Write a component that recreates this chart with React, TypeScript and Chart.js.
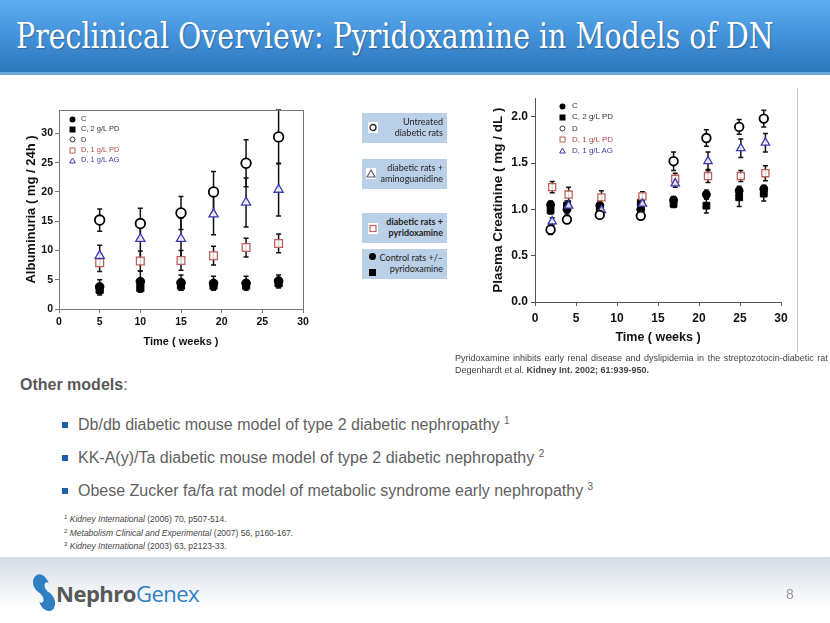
import React, { useEffect, useRef } from 'react';
import { Chart, registerables } from 'chart.js';
Chart.register(...registerables);

// ---------- Data: Albuminuria (left chart) ----------
const albuminWeeks = [5, 10, 15, 19, 23, 27];
const albuminC = [3.8, 4.7, 4.5, 4.4, 4.4, 4.8];
const albuminCErr = [1.2, 1.8, 1.3, 1.2, 1.2, 1.0];
const albuminCPD = [3.3, 3.6, 4.0, 4.0, 4.0, 4.4];
const albuminCPDErr = [0.9, 0.7, 0.8, 0.7, 0.6, 0.8];
const albuminD = [15.2, 14.6, 16.4, 20.0, 24.9, 29.4];
const albuminDErr = [1.9, 2.6, 2.8, 3.5, 4.0, 4.6];
const albuminDPD = [7.9, 8.2, 8.3, 9.1, 10.5, 11.2];
const albuminDPDErr = [1.5, 1.7, 1.7, 1.6, 1.6, 1.6];
const albuminDAG = [9.1, 12.0, 12.0, 16.2, 18.2, 20.4];
const albuminDAGErr = [1.8, 3.3, 3.5, 3.5, 4.2, 4.5];
const albuminYTicks = [0, 5, 10, 15, 20, 25, 30];

// ---------- Data: Plasma creatinine (right chart) ----------
const creatWeeksControl = [1.9, 3.9, 7.9, 12.9, 16.9, 20.9, 24.9, 27.9];
const creatWeeksTreated = [2.1, 4.1, 8.1, 13.1, 17.1, 21.1, 25.1, 28.1];
const creatC = [1.05, 1.0, 1.04, 1.0, 1.1, 1.16, 1.2, 1.22];
const creatCErr = [0.04, 0.05, 0.05, 0.04, 0.04, 0.05, 0.05, 0.04];
const creatCPD = [0.99, 1.04, 0.98, 1.07, 1.06, 1.04, 1.13, 1.17];
const creatCPDErr = [0.04, 0.05, 0.04, 0.05, 0.04, 0.08, 0.1, 0.08];
const creatD = [0.78, 0.89, 0.94, 0.93, 1.52, 1.77, 1.89, 1.98];
const creatDErr = [0.05, 0.04, 0.03, 0.03, 0.1, 0.09, 0.08, 0.09];
const creatDPD = [1.24, 1.16, 1.13, 1.14, 1.33, 1.36, 1.36, 1.39];
const creatDPDErr = [0.06, 0.08, 0.07, 0.05, 0.06, 0.07, 0.06, 0.08];
const creatDAG = [0.87, 1.04, 0.99, 1.06, 1.28, 1.52, 1.66, 1.72];
const creatDAGErr = [0.04, 0.05, 0.05, 0.05, 0.04, 0.1, 0.1, 0.1];
const creatYTicks = [0, 0.5, 1.0, 1.5, 2.0];

const legendLabels = ['C', 'C, 2 g/L PD', 'D', 'D, 1 g/L PD', 'D, 1 g/L AG'];

const RED = '#c0605a';
const BLUE = '#3a3ab0';
const SANS = "'Liberation Sans', Arial, sans-serif";

const styles: Record<string, any> = {
  C: { pointStyle: 'circle', backgroundColor: '#000', borderColor: '#000', borderWidth: 1 },
  CPD: { pointStyle: 'rect', backgroundColor: '#000', borderColor: '#000', borderWidth: 1 },
  D: { pointStyle: 'circle', backgroundColor: '#fff', borderColor: '#000', borderWidth: 1.8 },
  DPD: { pointStyle: 'rect', backgroundColor: 'rgba(255,255,255,0.85)', borderColor: RED, borderWidth: 1.3 },
  DAG: { pointStyle: 'triangle', backgroundColor: 'rgba(255,255,255,0.85)', borderColor: BLUE, borderWidth: 1.3 },
};

function ds(key: string, label: string, xs: number[], ys: number[], errs: number[], radius: number) {
  return {
    label,
    data: xs.map((x, i) => ({ x, y: ys[i] })),
    errors: errs,
    showLine: false,
    pointRadius: radius,
    ...styles[key],
  };
}

const errorBarPlugin = {
  id: 'errorBars',
  beforeDatasetsDraw(chart: any) {
    const { ctx, chartArea: a } = chart;
    const ys = chart.scales.y;
    ctx.save();
    ctx.beginPath();
    ctx.rect(a.left, a.top - 1, a.right - a.left, a.bottom - a.top + 1);
    ctx.clip();
    ctx.strokeStyle = '#111';
    ctx.lineWidth = 1.5;
    chart.data.datasets.forEach((d: any, i: number) => {
      if (!d.errors) return;
      const meta = chart.getDatasetMeta(i);
      meta.data.forEach((el: any, j: number) => {
        const v = d.data[j].y;
        const e = d.errors[j];
        const t = ys.getPixelForValue(v + e);
        const b = ys.getPixelForValue(v - e);
        const x = el.x;
        const cap = 2.5;
        ctx.beginPath();
        ctx.moveTo(x, t); ctx.lineTo(x, b);
        ctx.moveTo(x - cap, t); ctx.lineTo(x + cap, t);
        ctx.moveTo(x - cap, b); ctx.lineTo(x + cap, b);
        ctx.stroke();
      });
    });
    ctx.restore();
  },
};

const framePlugin = {
  id: 'frame',
  afterDraw(chart: any) {
    const o = chart.options.plugins.frame;
    if (!o || !o.display) return;
    const { ctx, chartArea: a } = chart;
    ctx.save();
    ctx.strokeStyle = o.color;
    ctx.lineWidth = 1;
    ctx.strokeRect(Math.round(a.left) + 0.5, Math.round(a.top) + 0.5, Math.round(a.right - a.left), Math.round(a.bottom - a.top));
    ctx.restore();
  },
};

function font(size: number, weight: any = 'bold') {
  return { family: SANS, size, weight };
}

function leftConfig(): any {
  const r = 4.3;
  return {
    type: 'scatter',
    data: {
      datasets: [
        ds('D', legendLabels[2], albuminWeeks, albuminD, albuminDErr, r + 0.5),
        ds('DAG', legendLabels[4], albuminWeeks, albuminDAG, albuminDAGErr, r + 1),
        ds('DPD', legendLabels[3], albuminWeeks, albuminDPD, albuminDPDErr, r + 1.2),
        ds('C', legendLabels[0], albuminWeeks, albuminC, albuminCErr, r),
        ds('CPD', legendLabels[1], albuminWeeks, albuminCPD, albuminCPDErr, r + 0.8),
      ],
    },
    options: {
      animation: false,
      responsive: false,
      devicePixelRatio: 1,
      events: [],
      layout: { padding: { top: 20, right: 17, left: 0, bottom: 0 } },
      plugins: { legend: { display: false }, tooltip: { enabled: false }, frame: { display: true, color: '#777' } },
      scales: {
        x: {
          type: 'linear', min: 0, max: 30,
          ticks: { stepSize: 5, color: '#111', font: font(10.5), padding: 3, maxRotation: 0 },
          grid: { drawOnChartArea: false, tickLength: 4, color: '#777' },
          border: { color: '#777', width: 1 },
          title: { display: true, text: 'Time ( weeks )', color: '#111', font: font(11), padding: { top: 0, bottom: 11 } },
          afterFit: (s: any) => { s.height = 51; },
        },
        y: {
          type: 'linear', min: 0, max: 34,
          afterBuildTicks: (s: any) => { s.ticks = albuminYTicks.map((v) => ({ value: v })); },
          ticks: { color: '#111', font: font(10.5), padding: 2 },
          grid: { drawOnChartArea: false, tickLength: 4, color: '#777' },
          border: { color: '#777', width: 1 },
          title: { display: true, text: 'Albuminuria ( mg / 24h )', color: '#111', font: font(13), padding: { top: 24, bottom: 0 } },
          afterFit: (s: any) => { s.width = 59; },
        },
      },
    },
    plugins: [errorBarPlugin, framePlugin],
  };
}

function rightConfig(): any {
  const r = 4;
  return {
    type: 'scatter',
    data: {
      datasets: [
        ds('D', legendLabels[2], creatWeeksControl, creatD, creatDErr, r + 0.3),
        ds('DAG', legendLabels[4], creatWeeksTreated, creatDAG, creatDAGErr, r + 0.8),
        ds('DPD', legendLabels[3], creatWeeksTreated, creatDPD, creatDPDErr, r + 1),
        ds('C', legendLabels[0], creatWeeksControl, creatC, creatCErr, r),
        ds('CPD', legendLabels[1], creatWeeksControl, creatCPD, creatCPDErr, r + 0.8),
      ],
    },
    options: {
      animation: false,
      responsive: false,
      devicePixelRatio: 1,
      events: [],
      layout: { padding: { top: 10, right: 19, left: 0, bottom: 0 } },
      plugins: { legend: { display: false }, tooltip: { enabled: false }, frame: { display: false } },
      scales: {
        x: {
          type: 'linear', min: 0, max: 30,
          ticks: { stepSize: 5, color: '#111', font: font(12), padding: 5, maxRotation: 0 },
          grid: { drawOnChartArea: false, tickLength: 4, color: '#555' },
          border: { color: '#555', width: 1 },
          title: { display: true, text: 'Time ( weeks )', color: '#111', font: font(12.5), padding: { top: 0, bottom: 13 } },
          afterFit: (s: any) => { s.height = 56; },
        },
        y: {
          type: 'linear', min: 0, max: 2.2,
          afterBuildTicks: (s: any) => { s.ticks = creatYTicks.map((v) => ({ value: v })); },
          ticks: { color: '#111', font: font(12), padding: 3, callback: (v: any) => Number(v).toFixed(1) },
          grid: { drawOnChartArea: false, tickLength: 4, color: '#555' },
          border: { color: '#555', width: 1 },
          title: { display: true, text: 'Plasma Creatinine ( mg / dL )', color: '#111', font: font(13.5), padding: { top: 35, bottom: 0 } },
          afterFit: (s: any) => { s.width = 80; },
        },
      },
    },
    plugins: [errorBarPlugin, framePlugin],
  };
}

function ChartCanvas(props: { left: number; top: number; width: number; height: number; make: () => any }) {
  const ref = useRef<HTMLCanvasElement>(null);
  useEffect(() => {
    const chart = new Chart(ref.current as HTMLCanvasElement, props.make());
    return () => chart.destroy();
  }, []);
  return (
    <canvas
      ref={ref}
      width={props.width}
      height={props.height}
      style={{ position: 'absolute', left: props.left, top: props.top, width: props.width, height: props.height }}
    />
  );
}

function Marker({ kind, s }: { kind: string; s: number }) {
  const h = s / 2;
  let el: any = null;
  if (kind === 'C') el = <circle cx={h} cy={h} r={h - 0.5} fill="#000" />;
  if (kind === 'CPD') el = <rect x={0.5} y={0.5} width={s - 1} height={s - 1} fill="#000" />;
  if (kind === 'D') el = <circle cx={h} cy={h} r={h - 1} fill="#fff" stroke="#333" strokeWidth={1} />;
  if (kind === 'DPD') el = <rect x={1} y={1} width={s - 2} height={s - 2} fill="#fff" stroke={RED} strokeWidth={1} />;
  if (kind === 'DAG') el = <polygon points={`${h},1 ${s - 0.7},${s - 1} 0.7,${s - 1}`} fill="#fff" stroke={BLUE} strokeWidth={1} />;
  return (
    <svg width={s} height={s} style={{ display: 'block' }}>
      {el}
    </svg>
  );
}

const legendKeys = ['C', 'CPD', 'D', 'DPD', 'DAG'];
const legendColors = ['#333', '#333', '#333', '#b04848', '#4040a8'];

function InnerLegend({ mx, tx, rows, size, ms }: { mx: number; tx: number; rows: number[]; size: number; ms: number }) {
  return (
    <>
      {legendKeys.map((k, i) => (
        <React.Fragment key={k}>
          <div style={{ position: 'absolute', left: mx - ms / 2, top: rows[i] - ms / 2 }}>
            <Marker kind={k} s={ms} />
          </div>
          <div
            style={{
              position: 'absolute', left: tx, top: rows[i] - 6, height: 12, lineHeight: '12px',
              fontSize: size, fontFamily: SANS, color: legendColors[i], whiteSpace: 'nowrap',
            }}
          >
            {legendLabels[i]}
          </div>
        </React.Fragment>
      ))}
    </>
  );
}

const boxBase: any = {
  position: 'absolute', left: 362, width: 85, height: 30, background: '#bad0e8',
  fontFamily: "Lato, 'Noto Sans', sans-serif", fontSize: 9, lineHeight: '10.5px', color: '#222',
};

function InfoBox({ top, lines, bold, icon }: { top: number; lines: string[]; bold?: boolean; icon: any }) {
  return (
    <div style={{ ...boxBase, top }}>
      {icon}
      <div style={{ position: 'absolute', right: 4, top: 4, textAlign: 'right', fontWeight: bold ? 700 : 400, whiteSpace: 'nowrap' }}>
        {lines.map((l) => (
          <div key={l}>{l}</div>
        ))}
      </div>
    </div>
  );
}

function WhiteIcon({ left, top, children }: any) {
  return (
    <div style={{ position: 'absolute', left, top, width: 10, height: 11, background: '#fff' }}>
      <svg width={10} height={11} style={{ display: 'block' }}>{children}</svg>
    </div>
  );
}

const otherModels = [
  { text: 'Db/db diabetic mouse model of type 2 diabetic nephropathy', sup: '1' },
  { text: 'KK-A(y)/Ta diabetic mouse model of type 2 diabetic nephropathy', sup: '2' },
  { text: 'Obese Zucker fa/fa rat model of metabolic syndrome early nephropathy', sup: '3' },
];

const footnotes = [
  { sup: '1', it: 'Kidney International', rest: ' (2006) 70, p507-514.' },
  { sup: '2', it: 'Metabolism Clinical and Experimental', rest: ' (2007) 56, p160-167.' },
  { sup: '3', it: 'Kidney International', rest: ' (2003) 63, p2123-33.' },
];

export default function App() {
  return (
    <div
      style={{
        position: 'absolute', left: 0, top: 0, width: 830, height: 623, overflow: 'hidden',
        background: '#fff', fontFamily: SANS,
      }}
    >
      {/* Header */}
      <div
        style={{
          position: 'absolute', left: 0, top: 0, width: 830, height: 72,
          background: 'linear-gradient(180deg, #5eaef2 0%, #4594dc 45%, #2d77bb 100%)',
          borderBottom: '3px solid #6ea9de',
        }}
      />
      <div
        style={{
          position: 'absolute', left: 16, top: 13, height: 46, lineHeight: '46px', whiteSpace: 'nowrap',
          fontFamily: "'DejaVu Serif Condensed', 'DejaVu Serif', serif", fontSize: 31.6, color: '#fff',
          textShadow: '1px 1px 1px rgba(0,0,0,0.25)', transform: 'scaleY(1.12)', transformOrigin: 'left center',
        }}
      >
        Preclinical Overview: Pyridoxamine in Models of DN
      </div>

      {/* Charts */}
      <ChartCanvas left={0} top={90} width={320} height={270} make={leftConfig} />
      <ChartCanvas left={455} top={88} width={345} height={270} make={rightConfig} />
      <div style={{ position: 'absolute', left: 797, top: 88, width: 1, height: 264, background: '#c8c8c8' }} />

      <InnerLegend mx={72} tx={81} rows={[119, 129, 139.5, 150, 160]} size={7.5} ms={7} />
      <InnerLegend mx={562} tx={572} rows={[106, 117, 128.5, 139.5, 150.5]} size={8} ms={7} />

      {/* Middle legend boxes */}
      <InfoBox
        top={113}
        lines={['Untreated', 'diabetic rats']}
        icon={
          <WhiteIcon left={6} top={9}>
            <circle cx={5} cy={5.5} r={3} fill="none" stroke="#222" strokeWidth={1.3} />
          </WhiteIcon>
        }
      />
      <InfoBox
        top={159}
        lines={['diabetic rats +', 'aminoguanidine']}
        icon={
          <WhiteIcon left={4} top={9}>
            <polygon points="5,2 9,9 1,9" fill="none" stroke="#605070" strokeWidth={1.1} />
          </WhiteIcon>
        }
      />
      <InfoBox
        top={213}
        bold
        lines={['diabetic rats +', 'pyridoxamine']}
        icon={
          <WhiteIcon left={6} top={10}>
            <rect x={2} y={2.5} width={6} height={6} fill="none" stroke={RED} strokeWidth={1.2} />
          </WhiteIcon>
        }
      />
      <InfoBox
        top={249}
        lines={['Control rats +/\u2013', 'pyridoxamine']}
        icon={
          <>
            <div style={{ position: 'absolute', left: 7, top: 4, width: 7, height: 7, borderRadius: '50%', background: '#000' }} />
            <div style={{ position: 'absolute', left: 7, top: 20, width: 7, height: 7, background: '#000' }} />
          </>
        }
      />

      {/* Caption */}
      <div
        style={{
          position: 'absolute', left: 455, top: 352, whiteSpace: 'nowrap', fontSize: 9,
          lineHeight: '12px', color: '#444', fontFamily: "'Liberation Sans Narrow', 'Liberation Sans', Arial, sans-serif",
        }}
      >
        <div style={{ wordSpacing: 1 }}>Pyridoxamine inhibits early renal disease and dyslipidemia in the streptozotocin-diabetic rat</div>
        <div>
          Degenhardt et al. <b>Kidney Int. 2002; 61:939-950.</b>
        </div>
      </div>

      {/* Other models */}
      <div style={{ position: 'absolute', left: 20, top: 375, fontSize: 16, lineHeight: '20px', color: '#595959' }}>
        <b>Other models</b>:
      </div>
      {otherModels.map((m, i) => (
        <React.Fragment key={m.text}>
          <div style={{ position: 'absolute', left: 62, top: 422 + i * 33, width: 6, height: 6, background: '#1f5fae' }} />
          <div
            style={{
              position: 'absolute', left: 78, top: 415 + i * 33, fontSize: 16, lineHeight: '20px',
              color: '#5f5f5f', whiteSpace: 'nowrap',
            }}
          >
            {m.text} <sup style={{ fontSize: 10, verticalAlign: 6, lineHeight: 0 }}>{m.sup}</sup>
          </div>
        </React.Fragment>
      ))}

      {/* Footnotes */}
      <div style={{ position: 'absolute', left: 64, top: 513, fontSize: 8.5, lineHeight: '13.5px', color: '#444', whiteSpace: 'nowrap' }}>
        {footnotes.map((f) => (
          <div key={f.sup}>
            <sup style={{ fontSize: 6, verticalAlign: 3, lineHeight: 0 }}>{f.sup}</sup> <i>{f.it}</i>
            {f.rest}
          </div>
        ))}
      </div>

      {/* Footer band */}
      <div
        style={{
          position: 'absolute', left: 0, top: 557, width: 830, height: 66,
          background: 'linear-gradient(180deg, #d3dce5 0%, #eef1f5 45%, #ffffff 80%)',
        }}
      />
      <svg width={28} height={42} style={{ position: 'absolute', left: 30, top: 572 }}>
        <ellipse cx={11} cy={12} rx={7.5} ry={10} transform="rotate(-25 11 12)" fill="#2f7fc4" />
        <ellipse cx={17} cy={29} rx={7.5} ry={10.5} transform="rotate(-25 17 29)" fill="#2f7fc4" />
        <ellipse cx={18} cy={15} rx={3} ry={5} fill="#eef3f8" transform="rotate(-25 18 15)" />
        <ellipse cx={10} cy={26} rx={3} ry={5} fill="#f4f7fa" transform="rotate(-25 10 26)" />
      </svg>
      <div
        style={{
          position: 'absolute', left: 56, top: 579, fontSize: 22, lineHeight: '28px',
          fontFamily: "'Open Sans', 'Noto Sans', sans-serif", whiteSpace: 'nowrap', letterSpacing: -0.5,
        }}
      >
        <span style={{ color: '#585858', fontWeight: 700 }}>Nephro</span>
        <span style={{ color: '#2f7fc4', fontWeight: 400 }}>Genex</span>
      </div>
      <div style={{ position: 'absolute', left: 786, top: 586, fontSize: 14, lineHeight: '16px', color: '#9a9a9a' }}>8</div>
    </div>
  );
}
